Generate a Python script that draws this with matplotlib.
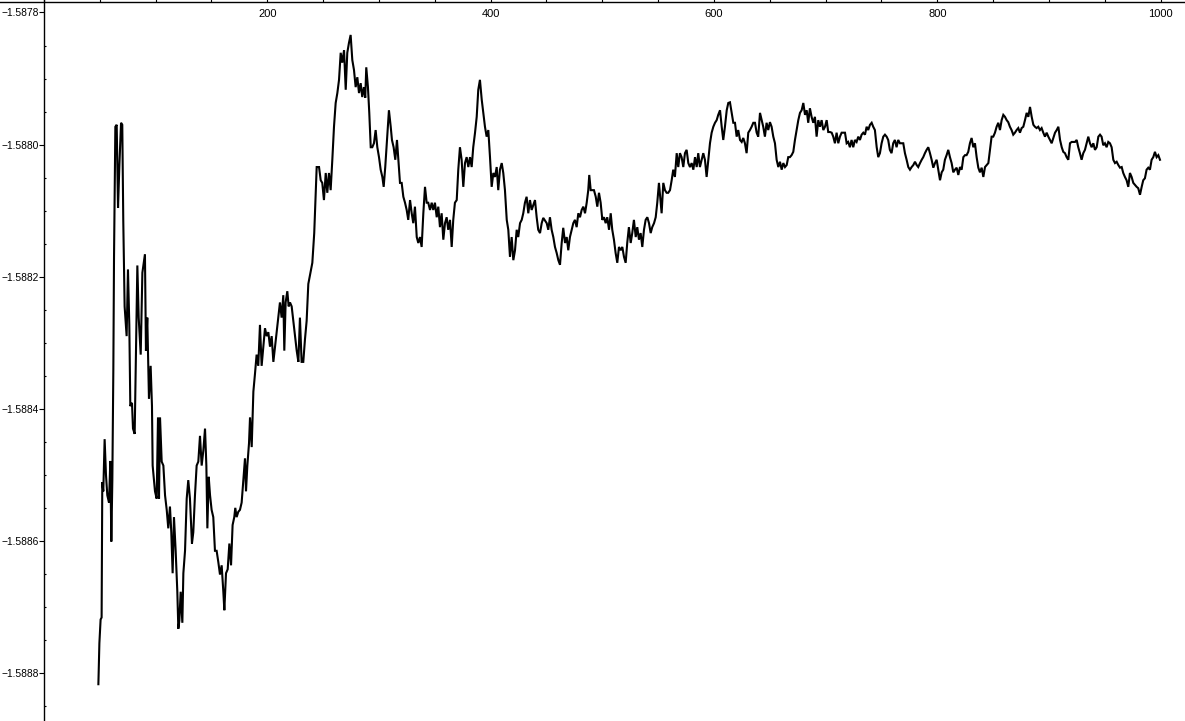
import numpy as np
import matplotlib
matplotlib.use("Agg")
import matplotlib.pyplot as plt
from matplotlib.ticker import MultipleLocator, FuncFormatter

# iteration index and running estimate
steps = [
    48.7, 49.6, 50.7, 51.6, 52.2, 53.1, 54.3, 55.5, 56.7, 58.2, 59.4, 60.3, 61.2, 62.1, 62.7, 63.9, 65.1, 66.3, 67.5, 69.0,
    70.1, 71.0, 72.2, 74.0, 75.2, 76.4, 77.3, 78.8, 79.7, 81.2, 82.4, 83.6, 84.8, 86.6, 88.1, 89.0, 90.4, 91.3, 92.5, 94.0,
    95.5, 96.7, 97.3, 99.4, 100.9, 102.1, 103.0, 103.9, 105.4, 106.9, 108.4, 109.9, 111.3, 112.8, 114.0, 115.2, 116.4, 117.9, 119.4, 120.3,
    121.2, 122.4, 123.9, 124.8, 126.3, 127.8, 129.2, 130.7, 132.5, 133.7, 135.2, 136.7, 138.2, 139.7, 141.2, 142.7, 144.2, 145.4, 146.3, 147.5,
    148.7, 150.1, 151.6, 153.1, 154.6, 156.1, 157.6, 159.1, 160.6, 161.5, 163.0, 164.5, 166.0, 167.5, 168.9, 170.4, 171.3, 172.5, 174.0, 175.5,
    177.0, 178.5, 180.0, 180.9, 182.1, 183.6, 184.5, 186.0, 187.5, 189.0, 190.4, 191.9, 193.4, 194.9, 196.4, 197.9, 199.4, 200.9, 202.4, 203.9,
    205.4, 206.9, 208.4, 209.8, 211.3, 212.8, 214.3, 215.2, 216.4, 217.9, 219.1, 220.3, 221.8, 223.3, 224.8, 226.3, 227.8, 229.2, 230.7, 232.2,
    233.7, 235.2, 236.7,
    240.3, 242.0, 244.2, 246.3, 247.8, 249.2, 250.7, 252.3, 253.7, 255.2, 256.7, 258.2, 259.7, 261.2, 262.7, 264.2, 265.7, 267.1, 268.7, 270.2,
    271.6, 273.1, 274.6, 276.1, 277.6, 279.1, 280.6, 282.1, 283.6, 285.0, 286.5, 287.7, 288.6, 290.1, 291.3, 292.6, 294.0, 295.5, 297.0, 298.5,
    300.0, 301.5, 303.0, 304.2, 305.6, 307.2, 308.9, 310.5, 311.6, 313.1, 314.6, 316.1, 317.6, 318.8, 320.3, 321.8, 323.3, 324.8, 326.2, 327.8,
    329.3, 330.7, 332.2, 333.8, 335.2, 336.7, 338.2, 339.7, 341.2, 342.7, 344.1, 345.7, 347.2, 348.6, 350.1, 351.7, 353.1, 354.6, 356.1, 357.6,
    359.1, 360.6, 362.0, 363.6, 365.1, 366.5, 368.0, 369.6, 371.0, 372.5, 374.0, 375.5, 377.0, 378.5, 380.0, 381.5, 383.0, 384.4, 386.0, 387.5,
    388.9, 390.4, 392.0, 393.4, 394.9, 396.4, 397.9, 399.4, 400.9, 402.4, 403.9, 405.4, 406.8, 408.3, 409.9, 411.3, 412.8, 414.4, 415.8, 417.3,
    418.8, 420.3, 421.8, 423.3, 424.7,
    426.3, 427.8, 429.2, 430.7, 432.2, 433.7, 435.2, 436.7, 439.7, 441.2, 442.6, 444.2, 445.7, 447.1, 450.2, 451.6, 453.1, 454.6, 456.1, 457.6,
    459.1, 460.6, 462.1, 463.6, 465.0, 466.6, 468.1, 469.5, 471.0, 472.6, 474.0, 475.5, 477.0, 478.5, 480.0, 481.5, 483.0, 484.5, 486.0, 487.4,
    488.3, 489.6, 492.5, 494.1, 495.5, 497.0, 498.5, 500.0, 501.5, 503.0, 504.4, 506.0, 507.5, 508.9, 510.4, 511.9, 513.4, 514.9, 516.4, 517.9,
    519.4, 520.9, 522.3, 523.8, 525.4, 526.8, 528.3, 529.9, 531.3, 532.8, 534.3, 535.8, 537.3, 538.8, 540.3, 541.8, 543.3, 544.7, 546.3, 547.8,
    549.2, 550.7, 552.3, 553.1, 554.6, 556.1, 557.6, 559.0, 560.6, 562.1, 563.5, 565.0, 566.6, 568.0, 569.5, 571.0, 572.5, 574.0, 575.5, 577.0,
    578.5, 580.0, 581.5, 583.0, 584.5, 585.9, 587.4, 589.0, 590.4, 591.9, 593.4, 594.9, 596.4, 597.9, 599.4, 600.9, 602.4, 603.8, 605.4, 606.9,
    608.3, 609.8, 611.4, 612.8, 614.3,
    615.8, 617.3, 618.8, 620.3, 621.7, 623.3, 624.8, 626.2, 627.7, 629.2, 630.7, 632.2, 633.7, 635.2, 636.7, 638.2, 639.6, 641.2, 642.7, 644.1,
    645.6, 647.1, 648.6, 650.1, 651.6, 653.1, 654.6, 656.1, 657.6, 659.1, 660.6, 662.1, 663.6, 665.1, 666.5, 668.0, 669.5, 671.0, 672.5, 674.0,
    675.5, 677.0, 678.5, 680.0, 681.5, 683.0, 684.4, 685.9, 687.4, 688.9, 690.4, 691.9, 693.4, 694.9, 696.4, 697.9, 699.4, 700.9, 702.3, 703.9,
    705.4, 706.8, 708.3, 709.8, 711.3, 712.8, 714.3, 715.8, 717.3, 718.8, 720.2, 721.7, 723.2, 724.7, 726.2, 727.7, 729.2, 730.7, 732.2, 733.7,
    735.2, 736.7, 738.1, 739.7, 741.2, 742.6, 744.1, 745.7, 747.1, 748.6, 750.1, 751.6, 753.1, 754.6, 756.0, 757.5, 759.0, 760.5, 762.0, 763.5,
    765.0, 766.5, 768.0, 769.5, 771.0, 772.5, 774.0, 775.5, 777.0, 778.5, 780.0, 781.5, 782.9, 784.5, 786.0, 787.4, 788.9, 790.4, 791.9, 793.4,
    794.9, 796.4, 797.9, 799.4, 800.9, 802.4,
    803.9, 805.3, 806.8, 808.3, 809.8, 811.3, 812.8, 814.3, 815.8, 817.3, 818.8, 820.3, 821.8, 823.3, 824.8, 826.2, 827.7, 829.2, 830.7, 832.2,
    833.7, 835.2, 836.7, 838.2, 839.7, 841.2, 842.7, 844.2, 845.7, 847.2, 848.6, 850.1, 851.6, 853.1, 854.6, 856.1, 857.6, 859.1, 860.6, 862.1,
    863.5, 865.0, 866.5, 868.0, 869.5, 871.0, 872.5, 874.0, 875.5, 877.0, 878.5, 880.0, 881.5, 883.0, 884.5, 886.0, 887.4, 888.9, 890.4, 891.9,
    893.4, 894.9, 896.4, 897.9, 899.4, 900.9, 902.4, 903.9, 905.4, 906.9, 908.4, 909.9, 911.4, 912.8, 914.3, 915.8, 917.3, 918.8, 920.3, 921.8,
    923.3, 924.8, 926.2, 927.7, 929.2, 930.7, 932.2, 933.7, 935.2, 936.7, 938.2, 939.7, 941.2, 942.7, 944.2, 945.7, 947.1, 948.6, 950.1, 951.6,
    953.1, 954.6, 956.1, 957.6, 959.1, 960.6, 962.1, 963.6, 965.1, 966.5, 968.0, 969.5, 971.0, 972.5, 974.0, 975.5, 977.0, 978.5, 979.9, 981.5,
    983.0, 984.4, 985.9, 987.4, 988.9, 990.4, 991.9, 993.4, 994.9, 996.4, 997.9, 999.4,
]

values = [
    -1.588817, -1.588755, -1.588719, -1.588716, -1.588511, -1.588525, -1.588446, -1.588500, -1.588531, -1.588542,
    -1.588479, -1.588601, -1.588508, -1.588340, -1.588172, -1.587973, -1.587970, -1.588096, -1.588032, -1.587967,
    -1.587970, -1.588116, -1.588245, -1.588290, -1.588189, -1.588273, -1.588396, -1.588391, -1.588430, -1.588438,
    -1.588306, -1.588183, -1.588262, -1.588318, -1.588194, -1.588183, -1.588166, -1.588312, -1.588262, -1.588385,
    -1.588335, -1.588396, -1.588486, -1.588525, -1.588536, -1.588413, -1.588536, -1.588413, -1.588480, -1.588486,
    -1.588531, -1.588553, -1.588581, -1.588548, -1.588587, -1.588649, -1.588564, -1.588615, -1.588677, -1.588733,
    -1.588721, -1.588677, -1.588724, -1.588649, -1.588615, -1.588536, -1.588508, -1.588536, -1.588604, -1.588587,
    -1.588531, -1.588486, -1.588480, -1.588441, -1.588486, -1.588463, -1.588430, -1.588486, -1.588581, -1.588503,
    -1.588531, -1.588553, -1.588564, -1.588615, -1.588615, -1.588632, -1.588651, -1.588637, -1.588677, -1.588705,
    -1.588649, -1.588643, -1.588604, -1.588637, -1.588576, -1.588564, -1.588550, -1.588564, -1.588556, -1.588553,
    -1.588542, -1.588508, -1.588475, -1.588525, -1.588486, -1.588452, -1.588413, -1.588458, -1.588374, -1.588346,
    -1.588318, -1.588335, -1.588273, -1.588335, -1.588306, -1.588278, -1.588290, -1.588284, -1.588306, -1.588290,
    -1.588329, -1.588306, -1.588284, -1.588262, -1.588239, -1.588262, -1.588228, -1.588312, -1.588239, -1.588222,
    -1.588245, -1.588239, -1.588245, -1.588267, -1.588290, -1.588312, -1.588329, -1.588262, -1.588329, -1.588329,
    -1.588295, -1.588267, -1.588211,
    -1.588179, -1.588134, -1.588034, -1.588034, -1.588054, -1.588058, -1.588084, -1.588043, -1.588073, -1.588043,
    -1.588069, -1.588023, -1.587973, -1.587937, -1.587922, -1.587902, -1.587861, -1.587876, -1.587857, -1.587917,
    -1.587861, -1.587846, -1.587834, -1.587872, -1.587887, -1.587913, -1.587898, -1.587922, -1.587907, -1.587928,
    -1.587913, -1.587929, -1.587883, -1.587913, -1.587952, -1.588004, -1.588004, -1.587998, -1.587978, -1.588004,
    -1.588019, -1.588038, -1.588049, -1.588064, -1.588034, -1.587993, -1.587948, -1.587973, -1.587993, -1.588004,
    -1.588023, -1.587993, -1.588028, -1.588058, -1.588058, -1.588079, -1.588088, -1.588099, -1.588114, -1.588084,
    -1.588104, -1.588119, -1.588094, -1.588140, -1.588149, -1.588140, -1.588155, -1.588104, -1.588064, -1.588088,
    -1.588088, -1.588099, -1.588088, -1.588099, -1.588088, -1.588110, -1.588094, -1.588125, -1.588104, -1.588144,
    -1.588119, -1.588110, -1.588129, -1.588114, -1.588155, -1.588114, -1.588088, -1.588084, -1.588038, -1.588004,
    -1.588023, -1.588064, -1.588028, -1.588019, -1.588034, -1.588019, -1.588034, -1.588004, -1.587982, -1.587958,
    -1.587917, -1.587902, -1.587932, -1.587952, -1.587973, -1.587988, -1.587978, -1.588019, -1.588064, -1.588043,
    -1.588049, -1.588034, -1.588069, -1.588038, -1.588028, -1.588043, -1.588069, -1.588114, -1.588129, -1.588170,
    -1.588140, -1.588175, -1.588160, -1.588129, -1.588140,
    -1.588119, -1.588114, -1.588104, -1.588088, -1.588079, -1.588104, -1.588084, -1.588099, -1.588084, -1.588110,
    -1.588129, -1.588134, -1.588119, -1.588111, -1.588119, -1.588129, -1.588110, -1.588129, -1.588140, -1.588155,
    -1.588164, -1.588175, -1.588182, -1.588149, -1.588126, -1.588149, -1.588140, -1.588160, -1.588140, -1.588129,
    -1.588119, -1.588114, -1.588125, -1.588104, -1.588110, -1.588099, -1.588094, -1.588104, -1.588088, -1.588069,
    -1.588046, -1.588069, -1.588069, -1.588079, -1.588094, -1.588073, -1.588088, -1.588114, -1.588110, -1.588119,
    -1.588110, -1.588129, -1.588104, -1.588129, -1.588144, -1.588164, -1.588179, -1.588155, -1.588160, -1.588155,
    -1.588170, -1.588179, -1.588149, -1.588125, -1.588149, -1.588134, -1.588114, -1.588140, -1.588125, -1.588144,
    -1.588134, -1.588155, -1.588129, -1.588114, -1.588110, -1.588119, -1.588134, -1.588125, -1.588119, -1.588110,
    -1.588088, -1.588058, -1.588088, -1.588104, -1.588058, -1.588069, -1.588073, -1.588073, -1.588069, -1.588054,
    -1.588038, -1.588049, -1.588013, -1.588034, -1.588013, -1.588019, -1.588034, -1.588013, -1.588008, -1.588028,
    -1.588034, -1.588028, -1.588038, -1.588019, -1.588034, -1.588013, -1.588034, -1.588023, -1.588013, -1.588023,
    -1.588049, -1.588023, -1.587998, -1.587982, -1.587973, -1.587967, -1.587963, -1.587955, -1.587948, -1.587973,
    -1.587993, -1.587973, -1.587948, -1.587937, -1.587936,
    -1.587951, -1.587967, -1.587967, -1.587988, -1.587978, -1.587993, -1.587996, -1.587990, -1.587998, -1.588013,
    -1.587982, -1.587978, -1.587973, -1.587967, -1.587967, -1.587982, -1.587988, -1.587952, -1.587963, -1.587973,
    -1.587988, -1.587967, -1.587978, -1.587966, -1.587973, -1.587988, -1.587998, -1.588023, -1.588034, -1.588026,
    -1.588038, -1.588028, -1.588034, -1.588031, -1.588019, -1.588019, -1.588016, -1.588011, -1.587993, -1.587978,
    -1.587963, -1.587952, -1.587948, -1.587937, -1.587955, -1.587948, -1.587967, -1.587945, -1.587958, -1.587967,
    -1.587958, -1.587988, -1.587963, -1.587973, -1.587963, -1.587978, -1.587973, -1.587963, -1.587981, -1.587981,
    -1.587982, -1.587988, -1.587998, -1.587982, -1.587998, -1.587988, -1.587982, -1.587982, -1.587982, -1.587998,
    -1.587996, -1.588004, -1.587993, -1.588004, -1.587993, -1.587996, -1.587988, -1.587993, -1.587985, -1.587982,
    -1.587985, -1.587973, -1.587978, -1.587970, -1.587967, -1.587973, -1.587978, -1.588004, -1.588019, -1.588013,
    -1.587998, -1.587988, -1.587985, -1.587988, -1.587993, -1.588008, -1.588013, -1.587998, -1.587993, -1.588004,
    -1.587993, -1.587998, -1.587998, -1.587998, -1.588013, -1.588023, -1.588034, -1.588038, -1.588034, -1.588031,
    -1.588026, -1.588031, -1.588034, -1.588028, -1.588023, -1.588019, -1.588013, -1.588008, -1.588004, -1.588013,
    -1.588023, -1.588035, -1.588028, -1.588023, -1.588038, -1.588054,
    -1.588042, -1.588038, -1.588023, -1.588016, -1.588008, -1.588019, -1.588028, -1.588042, -1.588038, -1.588035,
    -1.588046, -1.588034, -1.588038, -1.588019, -1.588016, -1.588016, -1.588011, -1.587998, -1.587990, -1.588004,
    -1.587998, -1.588019, -1.588035, -1.588042, -1.588035, -1.588049, -1.588034, -1.588031, -1.588028, -1.588008,
    -1.587988, -1.587988, -1.587982, -1.587973, -1.587967, -1.587978, -1.587963, -1.587955, -1.587958, -1.587963,
    -1.587966, -1.587973, -1.587978, -1.587985, -1.587982, -1.587978, -1.587975, -1.587982, -1.587975, -1.587973,
    -1.587963, -1.587952, -1.587958, -1.587943, -1.587958, -1.587970, -1.587973, -1.587975, -1.587973, -1.587978,
    -1.587975, -1.587982, -1.587988, -1.587982, -1.587988, -1.587993, -1.587998, -1.587990, -1.587982, -1.587978,
    -1.587973, -1.587993, -1.588004, -1.588011, -1.588013, -1.588019, -1.588023, -1.587998, -1.587996, -1.587996,
    -1.587996, -1.587993, -1.588004, -1.588013, -1.588023, -1.588013, -1.588008, -1.587998, -1.587988, -1.587998,
    -1.588004, -1.587998, -1.588008, -1.588004, -1.587988, -1.587985, -1.587988, -1.588001, -1.587998, -1.588004,
    -1.587996, -1.587998, -1.588004, -1.588023, -1.588028, -1.588026, -1.588031, -1.588035, -1.588034, -1.588043,
    -1.588049, -1.588054, -1.588064, -1.588043, -1.588049, -1.588058, -1.588061, -1.588064, -1.588066, -1.588076,
    -1.588064, -1.588054, -1.588051, -1.588038, -1.588035, -1.588038, -1.588023, -1.588019, -1.588011, -1.588019,
    -1.588016, -1.588023,
]

x_range = (-39.4, 1021.8)
y_range = (-1.5888727, -1.5877811)
x_axis_level = -1.5877836

plt.rcParams['font.family'] = ['Liberation Sans', 'DejaVu Sans']

fig = plt.figure(figsize=(11.85, 7.21), dpi=100)
ax = fig.add_axes([0, 0, 1, 1])

ax.plot(steps, values, color='black', linewidth=1.5, solid_joinstyle='miter')

ax.set_xlim(*x_range)
ax.set_ylim(*y_range)

# Mathematica-style axes crossing at (0, top)
for side in ['top', 'right']:
    ax.spines[side].set_visible(False)
ax.spines['left'].set_position(('data', 0))
ax.spines['bottom'].set_position(('data', x_axis_level))
ax.spines['left'].set_linewidth(1.0)
ax.spines['bottom'].set_linewidth(1.0)

ax.xaxis.set_major_locator(MultipleLocator(200))
ax.xaxis.set_minor_locator(MultipleLocator(50))
ax.yaxis.set_major_locator(MultipleLocator(0.0002))
ax.yaxis.set_minor_locator(MultipleLocator(0.00005))

ax.xaxis.set_major_formatter(FuncFormatter(lambda v, p: '' if v == 0 else '%d' % v))
ax.yaxis.set_major_formatter(FuncFormatter(lambda v, p: ('%.4f' % v).replace('-', '\u2212')))

ax.tick_params(axis='x', which='major', direction='in', length=4, width=0.8, pad=5, labelsize=8)
ax.tick_params(axis='x', which='minor', direction='in', length=2, width=0.8)
ax.tick_params(axis='y', which='major', direction='out', length=3.3, width=0.8, pad=0.6, labelsize=7.4)
ax.tick_params(axis='y', which='minor', direction='in', length=1.5, width=0.8)

ax.patch.set_alpha(0)

plt.savefig('out.png', dpi=100)
